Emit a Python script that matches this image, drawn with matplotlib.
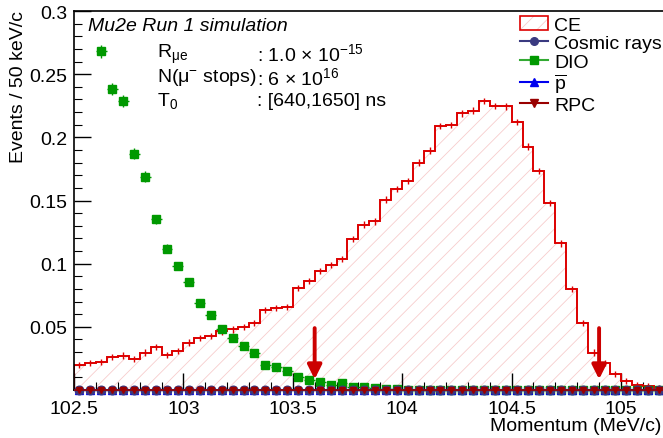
import numpy as np
import matplotlib
matplotlib.use('Agg')
import matplotlib.pyplot as plt
from matplotlib.lines import Line2D
from matplotlib.patches import Patch

plt.rcParams['font.family'] = ['Liberation Sans', 'DejaVu Sans']
plt.rcParams['font.size'] = 14
plt.rcParams['mathtext.fontset'] = 'custom'
plt.rcParams['mathtext.rm'] = 'Liberation Sans'
plt.rcParams['mathtext.it'] = 'Liberation Sans:italic'
plt.rcParams['hatch.linewidth'] = 0.6

# binning: 50 keV/c bins starting at 102.5 MeV/c
bin_lo = 102.5
bin_w = 0.05

# CE signal histogram (one value per bin)
ce = [0.0198, 0.0214, 0.0222, 0.0261, 0.0272, 0.0245, 0.0296, 0.0338, 0.0277, 0.0311,
      0.0375, 0.0414, 0.0430, 0.0464, 0.0480, 0.0499, 0.0530, 0.0633, 0.0649, 0.0657,
      0.0805, 0.0863, 0.0942, 0.0990, 0.1037, 0.1196, 0.1309, 0.1335, 0.1507, 0.1589,
      0.1657, 0.1800, 0.1895, 0.2090, 0.2100, 0.2190, 0.2212, 0.2286, 0.2249, 0.2245,
      0.2122, 0.1927, 0.1731, 0.1478, 0.1161, 0.0797, 0.0533, 0.0296, 0.0214, 0.0127,
      0.0074, 0.0042, 0.0034, 0.0016]
ce_err = 0.0025

# DIO, first point at 102.625
dio_start = 102.625
dio = [0.268, 0.238, 0.229, 0.187, 0.169, 0.135, 0.112, 0.098, 0.0855, 0.069,
       0.059, 0.048, 0.041, 0.035, 0.029, 0.020, 0.018, 0.015, 0.0105, 0.008,
       0.0063, 0.004, 0.0055, 0.0024, 0.0025, 0.0018, 0.001, 0.0008, 0.0, 0.0,
       0.0, 0.0, 0.0, 0.0, 0.0, 0.0, 0.0, 0.0, 0.0, 0.0,
       0.0, 0.0, 0.0, 0.0, 0.0, 0.0, 0.0, 0.0, 0.0, 0.0,
       0.0, 0.0]
dio_err = [0.0050, 0.0048, 0.0047, 0.0042, 0.0040, 0.0036, 0.0033, 0.0031, 0.0029, 0.0026,
           0.0024, 0.0022, 0.0020, 0.0019, 0.0017, 0.0014, 0.0013, 0.0012, 0.0010, 0.0009,
           0.0008, 0.0006, 0.0007, 0.0005, 0.0005, 0.0004, 0.0003, 0.0003, 0.0, 0.0,
           0.0, 0.0, 0.0, 0.0, 0.0, 0.0, 0.0, 0.0, 0.0, 0.0,
           0.0, 0.0, 0.0, 0.0, 0.0, 0.0, 0.0, 0.0, 0.0, 0.0,
           0.0, 0.0]

# other backgrounds are negligible (all bins at zero)
cosmic = [0.0] * len(ce)
pbar = [0.0] * len(ce)
rpc = [0.0] * len(ce)

# momentum window arrows
arrow_x = [103.6, 104.9]
arrow_top = 0.049
arrow_tip = 0.0085

edges = bin_lo + bin_w * np.arange(len(ce) + 1)
centers = edges[:-1] + bin_w / 2
dio_x = dio_start + bin_w * np.arange(len(dio))

fig = plt.figure(figsize=(6.63, 4.39), dpi=100)
ax = fig.add_axes([0.1116, 0.1093, 0.990, 0.8633])

red = '#dd0000'
pink = '#f7cccc'
ce_vals = np.array(ce)
ax.fill_between(edges, np.append(ce_vals, ce_vals[-1]), step='post',
                facecolor='none', edgecolor=pink, hatch='//', lw=0, zorder=1)
ax.stairs(ce_vals, edges, color=red, lw=1.4, zorder=2)
ax.errorbar(centers, ce_vals, yerr=ce_err, fmt='none', ecolor=red, elinewidth=1.0, zorder=2)

ax.errorbar(dio_x, dio, xerr=bin_w / 2, yerr=dio_err, fmt='s', color='#009900',
            ms=6.2, elinewidth=1.0, capsize=0, zorder=4, clip_on=False)
ax.errorbar(centers, pbar, xerr=bin_w / 2, fmt='^', color='#0000ee', ms=6,
            elinewidth=1.2, capsize=0, zorder=5, clip_on=False)
ax.errorbar(centers, cosmic, xerr=bin_w / 2, fmt='o', color='#3a3a80', ms=6.2,
            elinewidth=1.2, capsize=0, zorder=6, clip_on=False)
ax.errorbar(centers, rpc, xerr=bin_w / 2, fmt='v', color='#990000', ms=5.0,
            elinewidth=1.2, capsize=0, zorder=7, clip_on=False)

for xa in arrow_x:
    ax.annotate('', xy=(xa, arrow_tip), xytext=(xa, arrow_top),
                arrowprops=dict(arrowstyle='-|>', color='#cc0000', lw=2.8,
                                mutation_scale=21, shrinkA=0, shrinkB=0), zorder=8)

ax.set_xlim(102.5, 105.5)
ax.set_ylim(0, 0.3)
ax.set_xticks([102.5, 103, 103.5, 104, 104.5, 105])
ax.set_xticklabels(['102.5', '103', '103.5', '104', '104.5', '105'])
ax.set_yticks([0.05, 0.1, 0.15, 0.2, 0.25, 0.3])
ax.set_yticklabels(['0.05', '0.1', '0.15', '0.2', '0.25', '0.3'])
ax.set_xticks(np.arange(102.5, 105.5, 0.1), minor=True)
ax.set_yticks(np.arange(0, 0.3, 0.01), minor=True)
ax.tick_params(which='both', direction='in', top=False, right=False)
ax.tick_params(which='major', length=12, width=1.0, pad=5)
ax.tick_params(which='minor', length=6, width=0.8)
ax.tick_params(axis='x', which='major', pad=7)
for s in ax.spines.values():
    s.set_linewidth(1.2)

fig.text(0.997, 0.01, 'Momentum (MeV/c)', ha='right', va='bottom', fontsize=14)
fig.text(0.028, 0.975, 'Events / 50 keV/c', rotation=90, ha='center', va='top', fontsize=14)

ax.text(0.0215, 0.985, 'Mu2e Run 1 simulation', transform=ax.transAxes,
        fontsize=14, style='italic', va='top', ha='left')
rows_y = [0.889, 0.826, 0.765]
labels_l = [r'R$_{\mathregular{μe}}$', r'N(μ$^{\mathregular{-}}$ stops)', r'T$_{0}$']
labels_r = [r': 1.0 $\times$ 10$^{-15}$', r': 6 $\times$ 10$^{16}$', ': [640,1650] ns']
for yy, l1, l2 in zip(rows_y, labels_l, labels_r):
    ax.text(0.127, yy, l1, transform=ax.transAxes, fontsize=14, va='center')
    ax.text(0.2795, yy, l2, transform=ax.transAxes, fontsize=14, va='center')

ce_handle = (Patch(facecolor='white', edgecolor=pink, hatch='//', lw=0),
             Patch(facecolor='none', edgecolor=red, lw=1.2))
handles = [
    ce_handle,
    Line2D([], [], color='#3a3a80', marker='o', ms=5.5),
    Line2D([], [], color='#33aa33', marker='s', ms=5.5, mfc='#009900', mec='#009900'),
    Line2D([], [], color='#0000ee', marker='^', ms=5.5),
    Line2D([], [], color='#990000', marker='v', ms=5.5),
]
names = ['CE', 'Cosmic rays', 'DIO', r'$\overline{\mathregular{p}}$', 'RPC']
fig.legend(handles, names, loc='upper left', bbox_to_anchor=(520 / 663, 1 - 17 / 439),
           frameon=False, fontsize=14, handlelength=1.45, handletextpad=0.3,
           labelspacing=0.05, borderpad=0, borderaxespad=0)

fig.savefig('out.png', dpi=100)
